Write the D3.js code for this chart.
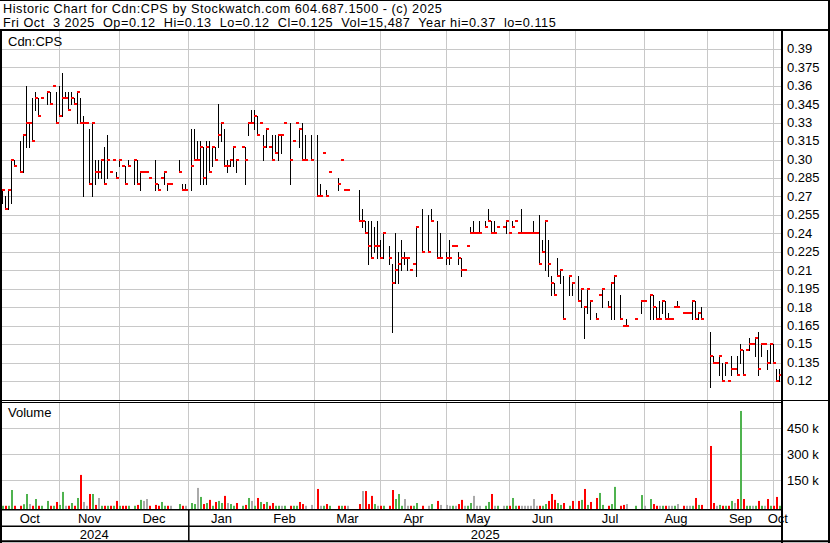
<!DOCTYPE html>
<html><head><meta charset="utf-8">
<script src="https://cdn.jsdelivr.net/npm/d3@7"></script>
<style>
body{margin:0;background:#fff}
svg{display:block}
text{font-family:"Liberation Sans",Arial,sans-serif;font-size:13px;white-space:pre;fill:#000}
text.hdr{font-size:12.7px;letter-spacing:0.53px}
</style>
</head><body>
<svg id="c" width="830" height="543"></svg>
<script>
// ---------------- DATA ----------------
const header1 = "Historic Chart for Cdn:CPS by Stockwatch.com 604.687.1500 - (c) 2025";
const header2 = "Fri Oct  3 2025  Op=0.12  Hi=0.13  Lo=0.12  Cl=0.125  Vol=15,487  Year hi=0.37  lo=0.115";
const symbolLabel = "Cdn:CPS";
const volumeLabel = "Volume";

const dates = [
 // Oct 2024
 "2024-10-04","2024-10-07","2024-10-08","2024-10-09","2024-10-10","2024-10-11","2024-10-15","2024-10-16","2024-10-17","2024-10-18","2024-10-21","2024-10-22","2024-10-23","2024-10-24","2024-10-28","2024-10-29","2024-10-30","2024-10-31",
 // Nov
 "2024-11-01","2024-11-04","2024-11-05","2024-11-06","2024-11-07","2024-11-08","2024-11-11","2024-11-12","2024-11-13","2024-11-14","2024-11-15","2024-11-18","2024-11-19","2024-11-20","2024-11-21","2024-11-22","2024-11-25","2024-11-26","2024-11-27","2024-11-28","2024-11-29",
 // Dec
 "2024-12-02","2024-12-03","2024-12-04","2024-12-06","2024-12-09","2024-12-10","2024-12-11","2024-12-12","2024-12-13","2024-12-17","2024-12-18","2024-12-19","2024-12-20","2024-12-23","2024-12-24","2024-12-27","2024-12-30","2024-12-31",
 // Jan 2025
 "2025-01-02","2025-01-03","2025-01-06","2025-01-07","2025-01-08","2025-01-09","2025-01-10","2025-01-13","2025-01-14","2025-01-15","2025-01-16","2025-01-17","2025-01-20","2025-01-21","2025-01-22","2025-01-23","2025-01-27","2025-01-28","2025-01-29","2025-01-30","2025-01-31",
 // Feb
 "2025-02-03","2025-02-04","2025-02-05","2025-02-06","2025-02-07","2025-02-10","2025-02-11","2025-02-12","2025-02-13","2025-02-14","2025-02-18","2025-02-19","2025-02-20","2025-02-21","2025-02-24","2025-02-25","2025-02-27",
 // Mar
 "2025-03-03","2025-03-04","2025-03-05","2025-03-06","2025-03-07","2025-03-12","2025-03-13","2025-03-14","2025-03-17","2025-03-21","2025-03-24","2025-03-25","2025-03-26","2025-03-27","2025-03-28","2025-03-31",
 // Apr
 "2025-04-01","2025-04-02","2025-04-04","2025-04-07","2025-04-08","2025-04-09","2025-04-10","2025-04-11","2025-04-14","2025-04-15","2025-04-16","2025-04-17","2025-04-21","2025-04-23","2025-04-24","2025-04-28","2025-04-29",
 // May
 "2025-05-01","2025-05-02","2025-05-05","2025-05-06","2025-05-07","2025-05-08","2025-05-09","2025-05-12","2025-05-13","2025-05-14","2025-05-15","2025-05-16","2025-05-20","2025-05-21","2025-05-22","2025-05-23","2025-05-26","2025-05-28","2025-05-29","2025-05-30",
 // Jun
 "2025-06-02","2025-06-03","2025-06-04","2025-06-05","2025-06-06","2025-06-09","2025-06-10","2025-06-11","2025-06-12","2025-06-13","2025-06-16","2025-06-17","2025-06-18","2025-06-19","2025-06-20","2025-06-23","2025-06-24","2025-06-25","2025-06-27","2025-06-30",
 // Jul
 "2025-07-02","2025-07-03","2025-07-04","2025-07-07","2025-07-08","2025-07-10","2025-07-11","2025-07-14","2025-07-16","2025-07-17","2025-07-18","2025-07-22","2025-07-23","2025-07-24","2025-07-29","2025-07-31",
 // Aug
 "2025-08-01","2025-08-05","2025-08-06","2025-08-07","2025-08-08","2025-08-11","2025-08-12","2025-08-13","2025-08-14","2025-08-15","2025-08-18","2025-08-20","2025-08-21","2025-08-22","2025-08-25","2025-08-26","2025-08-27","2025-08-28",
 // Sep
 "2025-09-02","2025-09-03","2025-09-04","2025-09-05","2025-09-08","2025-09-09","2025-09-10","2025-09-11","2025-09-12","2025-09-15","2025-09-16","2025-09-17","2025-09-18","2025-09-19","2025-09-22","2025-09-23","2025-09-24","2025-09-25","2025-09-26","2025-09-29","2025-09-30",
 // Oct
 "2025-10-01","2025-10-02","2025-10-03"
];
const high = [
 .275,.275,.27,.275,.30,.30,.315,.32,.36,.33,.35,.355,.35,.35,.355,.355,.36,.355,
 .36,.37,.355,.355,.355,.35,.355,.35,.335,.33,.325,.33,.30,.30,.30,.31,.32,.29,.30,.29,.30,
 .295,.295,.30,.30,.30,.29,.29,.29,.285,.30,.28,.285,.29,.28,.28,.30,.28,.28,
 .325,.325,.315,.315,.31,.315,.315,.31,.31,.345,.33,.325,.30,.30,.31,.30,.31,.31,.33,.34,.34,
 .335,.33,.32,.325,.31,.32,.32,.32,.32,.33,.33,.315,.33,.325,.33,.32,.32,
 .32,.28,.305,.275,.29,.285,.30,.275,.275,.275,.26,.25,.25,.25,.245,.25,
 .235,.24,.23,.215,.24,.225,.235,.225,.22,.21,.215,.245,.26,.255,.26,.25,.24,
 .225,.235,.23,.23,.225,.22,.21,.23,.245,.25,.24,.25,.25,.26,.25,.25,.245,.245,.25,.24,
 .25,.25,.24,.26,.24,.24,.24,.25,.24,.255,.235,.25,.235,.205,.20,.22,.21,.205,.205,.20,
 .205,.195,.18,.195,.185,.175,.19,.195,.185,.20,.205,.19,.165,.17,.17,.185,
 .185,.19,.19,.18,.185,.185,.185,.175,.17,.18,.185,.175,.175,.175,.185,.185,.175,.18,
 .16,.14,.135,.14,.135,.135,.12,.14,.13,.14,.15,.145,.145,.155,.15,.155,.16,.15,.15,.145,.15,
 .15,.13,.13
];
const low = [
 .265,.265,.26,.26,.265,.295,.29,.29,.31,.31,.315,.34,.335,.35,.345,.345,.36,.33,
 .335,.335,.35,.34,.345,.345,.33,.33,.27,.33,.28,.27,.28,.285,.285,.28,.285,.29,.30,.285,.295,
 .295,.28,.295,.28,.28,.275,.29,.29,.285,.275,.275,.285,.28,.275,.28,.29,.275,.275,
 .275,.30,.30,.28,.28,.28,.29,.295,.30,.31,.315,.295,.29,.295,.295,.29,.31,.28,.32,.33,.325,
 .32,.33,.30,.31,.31,.30,.305,.30,.305,.33,.28,.315,.33,.31,.30,.30,.30,
 .27,.27,.305,.27,.29,.275,.30,.275,.275,.25,.245,.24,.215,.22,.225,.22,
 .22,.22,.215,.16,.20,.20,.21,.215,.21,.21,.215,.205,.225,.225,.25,.22,.22,
 .215,.215,.23,.23,.215,.205,.21,.23,.24,.24,.24,.24,.245,.25,.24,.24,.245,.245,.24,.24,
 .245,.25,.24,.24,.24,.24,.24,.24,.24,.215,.225,.21,.205,.19,.19,.205,.20,.17,.19,.19,
 .185,.18,.155,.175,.17,.17,.19,.18,.18,.17,.17,.17,.165,.165,.17,.175,
 .185,.17,.17,.17,.17,.175,.17,.17,.17,.18,.18,.175,.175,.175,.17,.17,.17,.17,
 .115,.135,.135,.125,.12,.125,.12,.125,.13,.125,.135,.125,.145,.145,.15,.14,.125,.14,.15,.13,.135,
 .135,.12,.12
];
const close = [
 .27,.275,.26,.275,.30,.295,.29,.32,.33,.33,.315,.35,.335,.35,.355,.345,.36,.33,
 .335,.35,.35,.34,.35,.345,.355,.33,.33,.33,.28,.33,.29,.29,.30,.28,.30,.29,.30,.285,.30,
 .295,.28,.295,.30,.28,.29,.29,.29,.285,.28,.275,.285,.29,.28,.28,.29,.275,.275,
 .295,.30,.30,.31,.285,.31,.29,.31,.30,.32,.33,.295,.295,.30,.31,.30,.31,.30,.33,.33,.335,
 .32,.33,.31,.325,.31,.30,.305,.32,.32,.33,.30,.315,.33,.325,.30,.30,.30,
 .27,.27,.305,.27,.29,.28,.30,.275,.275,.25,.25,.24,.23,.22,.23,.23,
 .22,.24,.22,.20,.21,.215,.22,.22,.22,.21,.215,.245,.225,.225,.25,.22,.22,
 .22,.22,.23,.23,.22,.21,.21,.23,.24,.24,.24,.24,.245,.25,.24,.24,.245,.245,.25,.24,
 .245,.25,.24,.24,.24,.24,.24,.24,.24,.215,.225,.25,.215,.20,.19,.205,.21,.17,.205,.20,
 .185,.195,.18,.195,.185,.17,.19,.195,.18,.20,.205,.17,.165,.165,.17,.185,
 .185,.19,.18,.17,.17,.185,.17,.17,.17,.18,.18,.175,.175,.175,.185,.17,.175,.17,
 .14,.135,.135,.14,.12,.135,.12,.13,.13,.125,.145,.125,.145,.15,.15,.155,.13,.15,.15,.135,.15,
 .135,.12,.125
];
// volume in thousands of shares
const volume = [
 3,3,3,3,94,3,3,12,71,13,3,42,3,3,31,3,3,25,
 8,83,3,3,19,3,48,181,25,3,71,71,8,48,3,3,3,3,3,31,3,
 3,3,3,3,8,37,31,42,3,8,3,25,3,3,3,13,3,3,
 19,13,106,54,13,19,37,3,25,31,19,60,19,13,3,19,3,8,48,31,3,
 48,25,13,25,3,19,3,3,3,3,3,3,3,25,13,3,8,
 100,3,3,13,3,3,3,3,3,13,88,88,13,60,13,3,
 3,3,3,94,42,71,3,42,3,3,3,19,3,3,13,31,8,
 8,3,3,3,13,37,3,3,19,60,3,3,3,25,71,3,3,3,3,3,
 48,3,3,3,3,3,3,42,3,3,3,13,31,71,37,19,8,19,3,31,
 31,37,100,8,25,48,77,8,3,13,112,3,8,13,3,65,
 3,42,13,3,3,3,3,3,3,3,13,3,3,3,3,48,8,8,
 348,19,3,8,3,3,3,31,19,42,550,42,3,3,3,3,31,3,3,42,3,
 3,54,3
];

const priceTicks = [0.39,0.375,0.36,0.345,0.33,0.315,0.30,0.285,0.27,0.255,0.24,0.225,0.21,0.195,0.18,0.165,0.15,0.135,0.12];
const priceTickLabels = ["0.39","0.375","0.36","0.345","0.33","0.315","0.30","0.285","0.27","0.255","0.24","0.225","0.21","0.195","0.18","0.165","0.15","0.135","0.12"];
const volTicks = [150,300,450];
const volTickLabels = ["150 k","300 k","450 k"];
const monthStarts = ["2024-10-04","2024-11-01","2024-12-01","2025-01-01","2025-02-01","2025-03-01","2025-04-01","2025-05-01","2025-06-01","2025-07-01","2025-08-01","2025-09-01","2025-10-01"];
const monthLabels = ["Oct","Nov","Dec","Jan","Feb","Mar","Apr","May","Jun","Jul","Aug","Sep","Oct"];
const yearStarts = ["2024-10-04","2025-01-01"];
const yearLabels = ["2024","2025"];
const axisStart = "2024-10-04", axisEnd = "2025-10-03";

// ---------------- LAYOUT ----------------
const W = 830, H = 543;
const plotR = 782;
const priceTop = 31, priceBot = 400;
const volTop = 403, volBase = 509;

// weekday slot index (weekends collapse onto previous Friday)
function slotOf(s){
  const o = new Date(axisStart+"T00:00:00Z"), d = new Date(s+"T00:00:00Z");
  let n = -1;
  for (let t = new Date(o); t <= d; t.setUTCDate(t.getUTCDate()+1)) {
    const w = t.getUTCDay(); if (w !== 0 && w !== 6) n++;
  }
  return n;
}
const nSlots = slotOf(axisEnd) + 1;

const x = d3.scaleLinear().domain([0, nSlots]).range([-0.5, -0.5 + 3*nSlots]);
const y = d3.scaleLinear().domain([0.12, 0.39]).range([381.0, 48.8]);
const yv = d3.scaleLinear().domain([0, 450]).range([506.3, 428.3]);

const svg = d3.select("#c");
svg.append("rect").attr("width",W).attr("height",H).attr("fill","#fff");

const GRID = "#c8c8c8";
const g = svg.append("g");

// horizontal price grid
g.selectAll(".pg").data(priceTicks).join("line")
  .attr("x1",2).attr("x2",plotR-1)
  .attr("y1",d=>Math.round(y(d))+0.5).attr("y2",d=>Math.round(y(d))+0.5)
  .attr("stroke",GRID).attr("stroke-width",1);
// horizontal volume grid
g.selectAll(".vg").data(volTicks).join("line")
  .attr("x1",2).attr("x2",plotR-1)
  .attr("y1",d=>Math.round(yv(d))+0.5).attr("y2",d=>Math.round(yv(d))+0.5)
  .attr("stroke",GRID).attr("stroke-width",1);
// vertical month grid
const monthSlots = monthStarts.map(slotOf);
const gridSlots = monthSlots.slice(1);
[[priceTop,priceBot],[volTop,volBase]].forEach(([a,b])=>{
  g.selectAll(null).data(gridSlots).join("line")
    .attr("x1",d=>x(d)).attr("x2",d=>x(d)).attr("y1",a).attr("y2",b)
    .attr("stroke",GRID).attr("stroke-width",1);
});

// ---------------- PRICE BARS ----------------
const rows = dates.map((d,i)=>({s:slotOf(d),h:high[i],l:low[i],c:close[i],v:volume[i]}));
rows.forEach((r,i)=>{ r.prev = i>0 ? rows[i-1].c : r.c; });

const bars = svg.append("g");
bars.selectAll(".hl").data(rows).join("rect")
  .attr("x",d=>x(d.s)-0.5).attr("width",1)
  .attr("y",d=>Math.round(y(d.h)))
  .attr("height",d=>Math.max(1,Math.round(y(d.l))-Math.round(y(d.h))+1))
  .attr("fill","#000");
bars.selectAll(".cl").data(rows).join("rect")
  .attr("x",d=>x(d.s)-0.5).attr("width",3)
  .attr("y",d=>Math.round(y(d.c))-1).attr("height",2)
  .attr("fill","#ff0000");

// ---------------- VOLUME BARS ----------------
const volColor = d => d.c > d.prev ? "#4fb34f" : (d.c < d.prev ? "#ff0000" : "#aaaaaa");
svg.append("g").selectAll("rect").data(rows).join("rect")
  .attr("x",d=>x(d.s)-0.5).attr("width",2)
  .attr("y",d=>yv(d.v)).attr("height",d=>volBase-yv(d.v))
  .attr("fill",volColor);

// ---------------- FRAMES / LINES ----------------
const L = (x1,y1,x2,y2,w,c="#000")=>svg.append("line").attr("x1",x1).attr("y1",y1).attr("x2",x2).attr("y2",y2).attr("stroke",c).attr("stroke-width",w);
L(0,0.5,W,0.5,1);            // top frame
L(0,30,W,30,2);              // header separator
L(1,30,1,H,2);               // left frame
L(W-1,0,W-1,H,2);            // right frame
L(plotR,30,plotR,H,2);       // chart right border
L(0,400.5,W,400.5,1);        // panel double line
L(0,402.5,plotR,402.5,1);
L(0,509.7,plotR,509.7,1.5);  // volume baseline / date axis
L(0,526.3,plotR,526.3,1.5);  // between month and year rows
L(0,541.3,W,541.3,2);        // bottom frame
yearStarts.slice(1).forEach(s=>L(x(slotOf(s))+0.3,509,x(slotOf(s))+0.3,541,1.5));

// ---------------- TEXT ----------------
svg.append("text").attr("class","hdr").attr("x",3).attr("y",12.9).text(header1);
svg.append("text").attr("class","hdr").attr("x",3).attr("y",27.1).text(header2);
svg.append("text").attr("x",8).attr("y",45.7).text(symbolLabel);
svg.append("text").attr("x",8).attr("y",416.7).text(volumeLabel);

svg.selectAll(".pl").data(priceTicks).join("text")
  .attr("x",787).attr("y",d=>y(d)+4.4).text((d,i)=>priceTickLabels[i]);
svg.selectAll(".vl").data(volTicks).join("text")
  .attr("x",787).attr("y",d=>yv(d)+4.4).text((d,i)=>volTickLabels[i]);

const bounds = [0].concat(gridSlots.map(s=>x(s))).concat([plotR]);
svg.selectAll(".ml").data(monthLabels).join("text")
  .attr("x",(d,i)=>(bounds[i]+bounds[i+1])/2).attr("y",522.6)
  .attr("text-anchor","middle").text(d=>d);
const yb = [0].concat(yearStarts.slice(1).map(s=>x(slotOf(s)))).concat([plotR]);
svg.selectAll(".yl").data(yearLabels).join("text")
  .attr("x",(d,i)=>(yb[i]+yb[i+1])/2).attr("y",539)
  .attr("text-anchor","middle").text(d=>d);
</script>
</body></html>
